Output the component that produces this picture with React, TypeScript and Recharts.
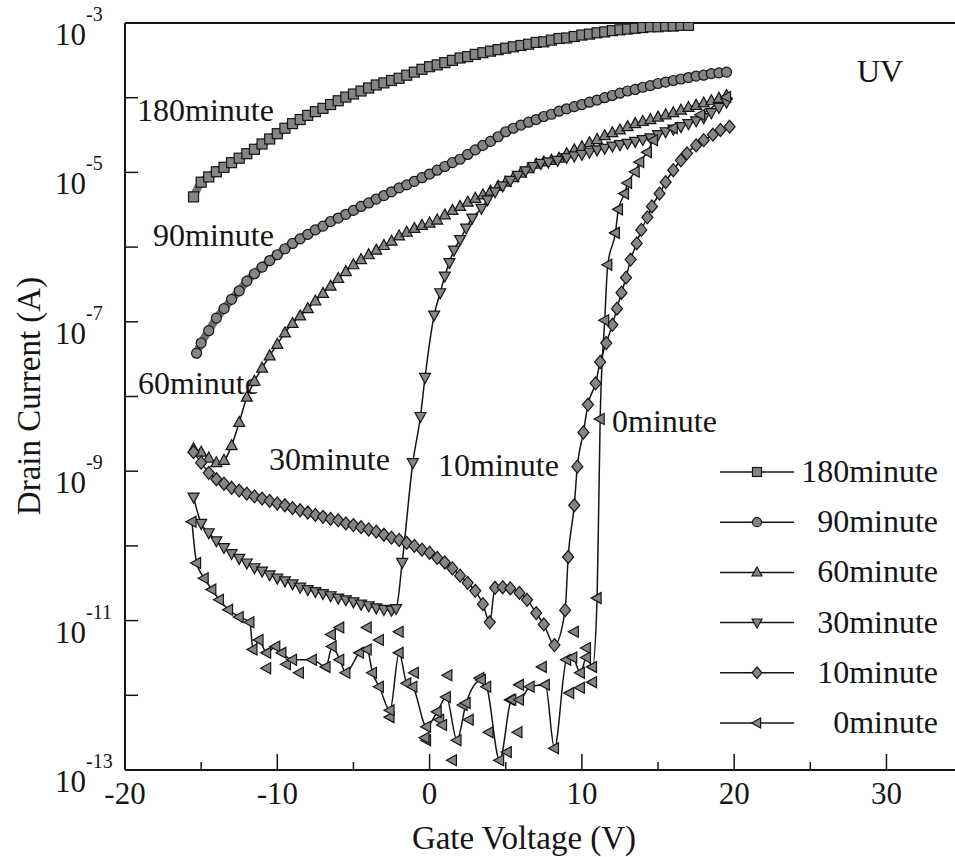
import React from 'react';
import { ComposedChart, Line, Scatter, XAxis, YAxis, ReferenceLine, Legend } from 'recharts';

// gate voltage (V), drain current (A)
const drain180: [number, number][] = [
  [-15.5, 4.7e-6], [-15, 7.4e-6], [-14.5, 8.7e-6], [-14, 1.02e-5], [-13.5, 1.17e-5], [-13, 1.35e-5],
  [-12.5, 1.55e-5], [-12, 1.78e-5], [-11.5, 2.04e-5], [-11, 2.4e-5], [-10.5, 2.8e-5], [-10, 3.3e-5],
  [-9.5, 3.9e-5], [-9, 4.5e-5], [-8.5, 5.1e-5], [-8, 5.8e-5], [-7.5, 6.5e-5], [-7, 7.2e-5],
  [-6.5, 8.1e-5], [-6, 9.1e-5], [-5.5, 1.02e-4], [-5, 1.12e-4], [-4.5, 1.23e-4], [-4, 1.35e-4],
  [-3.5, 1.48e-4], [-3, 1.58e-4], [-2.5, 1.7e-4], [-2, 1.82e-4], [-1.5, 2.0e-4], [-1, 2.2e-4],
  [-0.5, 2.4e-4], [0, 2.6e-4], [0.5, 2.75e-4], [1, 2.95e-4], [1.5, 3.16e-4], [2, 3.4e-4],
  [2.5, 3.55e-4], [3, 3.8e-4], [3.5, 4.0e-4], [4, 4.2e-4], [4.5, 4.4e-4], [5, 4.6e-4],
  [5.5, 4.8e-4], [6, 5.0e-4], [6.5, 5.2e-4], [7, 5.5e-4], [7.5, 5.6e-4], [8, 5.9e-4],
  [8.5, 6.2e-4], [9, 6.3e-4], [9.5, 6.6e-4], [10, 6.9e-4], [10.5, 7.1e-4], [11, 7.4e-4],
  [11.5, 7.6e-4], [12, 7.9e-4], [12.5, 8.1e-4], [13, 8.3e-4], [13.5, 8.5e-4], [14, 8.7e-4],
  [14.5, 8.9e-4], [15, 8.9e-4], [15.5, 9.1e-4], [16, 9.1e-4], [16.5, 9.3e-4], [17, 9.3e-4],
];

const drain90: [number, number][] = [
  [-15.3, 3.8e-8], [-15, 5.2e-8], [-14.5, 7.6e-8], [-14, 1.12e-7], [-13.5, 1.5e-7], [-13, 2.0e-7],
  [-12.5, 2.6e-7], [-12, 3.5e-7], [-11.5, 4.4e-7], [-11, 5.4e-7], [-10.5, 6.6e-7], [-10, 7.9e-7],
  [-9.5, 9.5e-7], [-9, 1.12e-6], [-8.5, 1.29e-6], [-8, 1.48e-6], [-7.5, 1.7e-6], [-7, 1.91e-6],
  [-6.5, 2.2e-6], [-6, 2.45e-6], [-5.5, 2.75e-6], [-5, 3.1e-6], [-4.5, 3.5e-6], [-4, 3.9e-6],
  [-3.5, 4.4e-6], [-3, 4.9e-6], [-2.5, 5.5e-6], [-2, 6.2e-6], [-1.5, 6.8e-6], [-1, 7.6e-6],
  [-0.5, 8.5e-6], [0, 9.5e-6], [0.5, 1.07e-5], [1, 1.2e-5], [1.5, 1.35e-5], [2, 1.5e-5],
  [2.5, 1.74e-5], [3, 2.0e-5], [3.5, 2.3e-5], [4, 2.6e-5], [4.5, 3.0e-5], [5, 3.5e-5],
  [5.5, 3.9e-5], [6, 4.3e-5], [6.5, 4.7e-5], [7, 5.1e-5], [7.5, 5.6e-5], [8, 6.0e-5],
  [8.5, 6.6e-5], [9, 7.1e-5], [9.5, 7.6e-5], [10, 8.1e-5], [10.5, 8.7e-5], [11, 9.3e-5],
  [11.5, 1.0e-4], [12, 1.07e-4], [12.5, 1.15e-4], [13, 1.23e-4], [13.5, 1.29e-4], [14, 1.38e-4],
  [14.5, 1.45e-4], [15, 1.55e-4], [15.5, 1.62e-4], [16, 1.7e-4], [16.5, 1.78e-4], [17, 1.86e-4],
  [17.5, 1.95e-4], [18, 2.0e-4], [18.5, 2.1e-4], [19, 2.15e-4], [19.5, 2.2e-4],
];

const drain60: [number, number][] = [
  [-15.5, 2.0e-9], [-15, 1.8e-9], [-14.5, 1.5e-9], [-14, 1.3e-9], [-13.5, 1.4e-9], [-13, 2.2e-9],
  [-12.5, 4.5e-9], [-12, 9.8e-9], [-11.5, 1.6e-8], [-11, 2.4e-8], [-10.5, 3.5e-8], [-10, 5.0e-8],
  [-9.5, 7.1e-8], [-9, 9.5e-8], [-8.5, 1.2e-7], [-8, 1.5e-7], [-7.5, 1.9e-7], [-7, 2.4e-7],
  [-6.5, 3.0e-7], [-6, 3.8e-7], [-5.5, 4.7e-7], [-5, 5.8e-7], [-4.5, 6.8e-7], [-4, 7.9e-7],
  [-3.5, 9.1e-7], [-3, 1.05e-6], [-2.5, 1.2e-6], [-2, 1.41e-6], [-1.5, 1.58e-6], [-1, 1.78e-6],
  [-0.5, 1.95e-6], [0, 2.1e-6], [0.5, 2.3e-6], [1, 2.7e-6], [1.5, 3.1e-6], [2, 3.5e-6],
  [2.5, 4.0e-6], [3, 4.5e-6], [3.5, 5.0e-6], [4, 5.6e-6], [4.5, 6.5e-6], [5, 7.4e-6],
  [5.5, 8.5e-6], [6, 9.8e-6], [6.5, 1.12e-5], [7, 1.29e-5], [7.5, 1.38e-5], [8, 1.45e-5],
  [8.5, 1.55e-5], [9, 1.78e-5], [9.5, 2.0e-5], [10, 2.2e-5], [10.5, 2.5e-5], [11, 2.75e-5],
  [11.5, 3.1e-5], [12, 3.4e-5], [12.5, 3.7e-5], [13, 4.1e-5], [13.5, 4.5e-5], [14, 4.8e-5],
  [14.5, 5.1e-5], [15, 5.5e-5], [15.5, 5.9e-5], [16, 6.3e-5], [16.5, 6.8e-5], [17, 7.4e-5],
  [17.5, 7.9e-5], [18, 8.5e-5], [18.5, 9.1e-5], [19, 9.8e-5], [19.5, 1.07e-4],
];

const drain30: [number, number][] = [
  [-15.5, 4.5e-10], [-15, 2.0e-10], [-14.5, 1.5e-10], [-14, 1.17e-10], [-13.5, 9.5e-11], [-13, 7.9e-11],
  [-12.5, 6.8e-11], [-12, 5.9e-11], [-11.5, 5.1e-11], [-11, 4.6e-11], [-10.5, 4.1e-11], [-10, 3.7e-11],
  [-9.5, 3.4e-11], [-9, 3.1e-11], [-8.5, 2.8e-11], [-8, 2.6e-11], [-7.5, 2.45e-11], [-7, 2.3e-11],
  [-6.5, 2.15e-11], [-6, 2.0e-11], [-5.5, 1.9e-11], [-5, 1.78e-11], [-4.5, 1.66e-11], [-4, 1.58e-11],
  [-3.5, 1.48e-11], [-3, 1.41e-11], [-2.5, 1.38e-11], [-2.2, 1.45e-11], [-1.8, 6.0e-11], [-1.1, 1.3e-9],
  [-0.6, 5.4e-9], [-0.3, 1.8e-8], [0.3, 1.23e-7], [0.7, 2.45e-7], [1.0, 4.1e-7], [1.3, 6.2e-7],
  [1.6, 9.1e-7], [2.0, 1.26e-6], [2.4, 1.8e-6], [2.8, 2.45e-6], [3.4, 3.3e-6], [3.8, 4.3e-6],
  [4.3, 5.5e-6], [4.8, 6.6e-6], [5.3, 7.8e-6], [5.8, 9.1e-6], [6.3, 1.05e-5], [6.8, 1.2e-5],
  [7.3, 1.32e-5], [7.8, 1.38e-5], [8.4, 1.45e-5], [9.0, 1.58e-5], [9.5, 1.66e-5], [10, 1.74e-5],
  [10.5, 1.86e-5], [11, 2.0e-5], [11.5, 2.1e-5], [12, 2.25e-5], [12.5, 2.35e-5], [13, 2.45e-5],
  [13.5, 2.6e-5], [14, 2.75e-5], [14.5, 2.9e-5], [15, 3.2e-5], [15.5, 3.5e-5], [16, 3.8e-5],
  [16.5, 4.1e-5], [17, 4.5e-5], [17.5, 4.9e-5], [18, 5.4e-5], [18.5, 6.3e-5], [19, 7.4e-5],
  [19.5, 8.7e-5],
];

const drain10: [number, number][] = [
  [-15.5, 1.8e-9], [-15, 1.3e-9], [-14.5, 9.5e-10], [-14, 7.8e-10], [-13.5, 6.8e-10], [-13, 6.0e-10],
  [-12.5, 5.5e-10], [-12, 5.0e-10], [-11.5, 4.6e-10], [-11, 4.3e-10], [-10.5, 4.0e-10], [-10, 3.7e-10],
  [-9.5, 3.5e-10], [-9, 3.2e-10], [-8.5, 3.0e-10], [-8, 2.8e-10], [-7.5, 2.6e-10], [-7, 2.45e-10],
  [-6.5, 2.3e-10], [-6, 2.2e-10], [-5.5, 2.0e-10], [-5, 1.9e-10], [-4.5, 1.78e-10], [-4, 1.66e-10],
  [-3.5, 1.55e-10], [-3, 1.41e-10], [-2.5, 1.29e-10], [-2, 1.2e-10], [-1.5, 1.1e-10], [-1, 1.0e-10],
  [-0.5, 8.9e-11], [0, 8.1e-11], [0.5, 6.9e-11], [1, 6.0e-11], [1.5, 5.0e-11], [2, 4.0e-11],
  [2.5, 3.2e-11], [3, 2.5e-11], [3.5, 1.66e-11], [3.95, 9.5e-12], [4.3, 2.75e-11], [4.8, 2.8e-11],
  [5.3, 2.7e-11], [5.9, 2.35e-11], [6.4, 1.9e-11], [7.0, 1.26e-11], [7.5, 8.9e-12], [8.2, 4.7e-12],
  [8.9, 1.38e-11], [9.1, 7.1e-11], [9.5, 3.5e-10], [9.7, 1.15e-9], [10.1, 3.3e-9], [10.4, 7.8e-9],
  [10.9, 1.5e-8], [11.2, 2.9e-8], [11.6, 5.2e-8], [12.0, 9.1e-8], [12.3, 1.5e-7], [12.6, 2.45e-7],
  [12.9, 3.9e-7], [13.2, 6.8e-7], [13.6, 1.12e-6], [13.9, 1.7e-6], [14.3, 2.5e-6], [14.6, 3.5e-6],
  [15.1, 5.2e-6], [15.5, 7.4e-6], [16.0, 1.07e-5], [16.5, 1.45e-5], [16.9, 1.8e-5], [17.5, 2.3e-5],
  [18.0, 2.7e-5], [18.6, 3.2e-5], [19.1, 3.7e-5], [19.7, 4.1e-5],
];

const drain0: [number, number][] = [
  [-15.6, 2.1e-10], [-15.3, 5.9e-11], [-14.8, 3.7e-11], [-14.3, 2.6e-11], [-13.8, 1.9e-11], [-13.2, 1.4e-11],
  [-12.5, 1.12e-11], [-11.8, 9.5e-12], [-11.6, 4.1e-12], [-11.2, 5.5e-12], [-10.7, 3.7e-12], [-10.1, 4.5e-12],
  [-9.7, 3.7e-12], [-9.0, 3.0e-12], [-7.7, 3.0e-12], [-6.8, 2.4e-12], [-6.4, 4.5e-12], [-5.9, 3.0e-12],
  [-5.5, 2.0e-12], [-4.6, 3.7e-12], [-4.1, 4.1e-12], [-3.75, 2.0e-12], [-3.3, 1.3e-12], [-2.6, 6.3e-13],
  [-2.0, 3.7e-12], [-1.5, 1.45e-12], [-1.1, 1.3e-12], [-0.2, 3.8e-13], [0.5, 6.0e-13], [1.1, 9.5e-13],
  [1.8, 2.5e-13], [2.4, 7.9e-13], [3.4, 1.6e-12], [3.75, 1.3e-12], [4.6, 1.35e-13], [5.4, 8.7e-13],
  [5.9, 8.7e-13], [6.6, 1.3e-12], [7.6, 1.38e-12], [8.2, 1.95e-13], [9.0, 3.0e-12], [9.4, 3.2e-12],
  [9.9, 2.0e-12], [10.3, 3.2e-12], [10.7, 2.4e-12], [11.0, 2.0e-11], [11.2, 5.0e-9], [11.5, 1.05e-7],
  [11.7, 5.8e-7], [12.2, 1.55e-6], [12.4, 3.2e-6], [12.8, 5.2e-6], [13.0, 7.2e-6], [13.5, 1.02e-5],
  [13.8, 1.38e-5], [14.3, 1.86e-5], [14.7, 2.7e-5], [16.0, 3.9e-5], [17.8, 5.9e-5], [19.5, 1.02e-4],
];

// stray 0 minute points that sit off the drawn curve
const drain0Stray: [number, number][] = [
  [-10.7, 2.3e-12], [-9.4, 2.6e-12], [-8.55, 2.0e-12], [-6.45, 6.5e-12], [-5.9, 8.1e-12], [-4.1, 8.1e-12],
  [-3.3, 5.5e-12], [-2.0, 7.1e-12], [-2.6, 5.1e-13], [-1.0, 2.0e-12], [-0.2, 2.5e-13], [1.2, 1.86e-12],
  [-0.3, 2.7e-13], [1.5, 1.35e-13], [3.3, 1.7e-12], [5.9, 1.38e-12], [7.4, 2.4e-12], [9.5, 7.1e-12],
  [10.3, 4.3e-12], [9.2, 1.07e-12], [9.9, 1.26e-12], [10.7, 1.5e-12], [5.3, 8.7e-13], [5.8, 3.2e-13],
  [5.1, 1.74e-13], [3.9, 3.2e-13], [2.2, 7.4e-13], [2.6, 4.7e-13], [0.66, 4.7e-13], [0.85, 4.0e-13],
];

const seriesNames = ['180minute', '90minute', '60minute', '30minute', '10minute', '0minute'];
const seriesShapes = ['square', 'circle', 'up', 'down', 'diamond', 'left'];
// the two densest sweeps print as a solid grey band in the scan
const bandSeries = ['180minute', '90minute'];

const xTicks = [-20, -15, -10, -5, 0, 5, 10, 15, 20, 25, 30];
const yTicks = [1e-13, 1e-12, 1e-11, 1e-10, 1e-9, 1e-8, 1e-7, 1e-6, 1e-5, 1e-4, 1e-3];
const yLabelExps = [-13, -11, -9, -7, -5, -3];

const FONT = 'Liberation Serif, DejaVu Serif, serif';
const INK = '#151515';

const toRows = (pts: [number, number][]) => pts.map(([v, i]) => ({ v, i }));

const Marker = ({ cx, cy, shape, s = 5 }: any) => {
  if (cx == null || cy == null || isNaN(cx) || isNaN(cy)) return null;
  const common = { fill: '#858585', stroke: INK, strokeWidth: 1.2 };
  switch (shape) {
    case 'square':
      return <rect x={cx - s} y={cy - s} width={2 * s} height={2 * s} {...common} />;
    case 'circle':
      return <circle cx={cx} cy={cy} r={s} {...common} />;
    case 'up':
      return <polygon points={`${cx},${cy - s * 1.2} ${cx + s * 1.1},${cy + s * 0.8} ${cx - s * 1.1},${cy + s * 0.8}`} {...common} />;
    case 'down':
      return <polygon points={`${cx},${cy + s * 1.2} ${cx + s * 1.1},${cy - s * 0.8} ${cx - s * 1.1},${cy - s * 0.8}`} {...common} />;
    case 'diamond':
      return <polygon points={`${cx},${cy - s * 1.3} ${cx + s * 1.1},${cy} ${cx},${cy + s * 1.3} ${cx - s * 1.1},${cy}`} {...common} />;
    default:
      return <polygon points={`${cx - s * 1.2},${cy} ${cx + s * 0.8},${cy - s * 1.1} ${cx + s * 0.8},${cy + s * 1.1}`} {...common} />;
  }
};

const dotFor = (shape: string) => (p: any) => <Marker key={`${shape}-${p.index}`} cx={p.cx} cy={p.cy} shape={shape} />;

const YTick = ({ x, y, payload }: any) => {
  const exp = Math.round(Math.log10(payload.value));
  return (
    <g>
      <line x1={x} x2={x + 13} y1={y} y2={y} stroke={INK} strokeWidth={1.5} />
      {yLabelExps.includes(exp) && (
        <text x={x - 70} y={y + 22} fontSize={31} fill={INK} style={{ fontFamily: FONT }}>
          10<tspan dy={-24} fontSize={20}>{exp}</tspan>
        </text>
      )}
    </g>
  );
};

const XTick = ({ x, y, payload }: any) => {
  const major = payload.value % 10 === 0;
  return (
    <g>
      <line x1={x} x2={x} y1={y} y2={y - (major ? 16 : 8)} stroke={INK} strokeWidth={1.5} />
      {major && (
        <text x={x} y={y + 34} textAnchor="middle" fontSize={31} fill={INK} style={{ fontFamily: FONT }}>
          {payload.value}
        </text>
      )}
    </g>
  );
};

// legend rows follow the series order, recharts payload only tells which are present
const LegendBox = ({ payload }: any) => {
  const present = (payload || []).map((e: any) => e.value);
  const items = seriesNames.filter((n) => present.includes(n));
  return (
    <svg width={235} height={300}>
      {items.map((name, k) => {
        const cy = 25 + k * 50.2;
        const shape = seriesShapes[seriesNames.indexOf(name)];
        return (
          <g key={name}>
            <line x1={8} x2={82} y1={cy} y2={cy} stroke={INK} strokeWidth={1.5} />
            <Marker cx={45} cy={cy} shape={shape} s={4.5} />
            <text x={226} y={cy + 10} textAnchor="end" fontSize={32} fill={INK} style={{ fontFamily: FONT }}>
              {name}
            </text>
          </g>
        );
      })}
    </svg>
  );
};

const Notes = () => (
  <g fontSize={32} fill={INK} style={{ fontFamily: FONT }}>
    <text x={137} y={121}>180minute</text>
    <text x={153} y={246}>90minute</text>
    <text x={138} y={394}>60minute</text>
    <text x={269} y={470}>30minute</text>
    <text x={438} y={476}>10minute</text>
    <text x={612} y={432}>0minute</text>
    <text x={857} y={82}>UV</text>
    <text x={524} y={849} textAnchor="middle" fontSize={33}>Gate Voltage (V)</text>
    <text x={40} y={396} textAnchor="middle" fontSize={33} transform="rotate(-90 40 396)">Drain Current (A)</text>
  </g>
);

const lines = [drain180, drain90, drain60, drain30, drain10, drain0];

export default function App() {
  return (
    <div style={{ position: 'absolute', left: 0, top: 0, width: 955, height: 857, background: '#fff', fontFamily: FONT }}>
      <ComposedChart width={955} height={857} margin={{ top: 23, right: 0, bottom: 0, left: 0 }}>
        <XAxis
          type="number"
          dataKey="v"
          domain={[-20, 34.5]}
          ticks={xTicks}
          interval={0}
          allowDataOverflow
          height={87}
          tickSize={0}
          tickMargin={0}
          tickLine={false}
          tick={<XTick />}
          axisLine={{ stroke: INK, strokeWidth: 2 }}
        />
        <YAxis
          type="number"
          dataKey="i"
          scale="log"
          domain={[1e-13, 1e-3]}
          ticks={yTicks}
          interval={0}
          allowDataOverflow
          width={125}
          tickSize={0}
          tickMargin={0}
          tickLine={false}
          tick={<YTick />}
          axisLine={{ stroke: INK, strokeWidth: 2 }}
        />
        <ReferenceLine y={1e-3} stroke={INK} strokeWidth={2} />
        {lines.map((pts, k) => {
          const band = bandSeries.includes(seriesNames[k]);
          return (
            <Line
              key={seriesNames[k]}
              name={seriesNames[k]}
              data={toRows(pts)}
              dataKey="i"
              type="monotone"
              stroke={band ? '#707070' : INK}
              strokeWidth={band ? 8 : 1.5}
              dot={dotFor(seriesShapes[k])}
              activeDot={false}
              isAnimationActive={false}
            />
          );
        })}
        <Scatter
          name="0minute stray"
          data={toRows(drain0Stray)}
          dataKey="i"
          legendType="none"
          shape={(p: any) => <Marker cx={p.cx} cy={p.cy} shape="left" />}
          isAnimationActive={false}
        />
        <Legend
          layout="vertical"
          align="center"
          verticalAlign="middle"
          content={<LegendBox />}
          wrapperStyle={{ position: 'absolute', left: 712, top: 447, width: 235, height: 300 }}
        />
        <Notes />
      </ComposedChart>
    </div>
  );
}
